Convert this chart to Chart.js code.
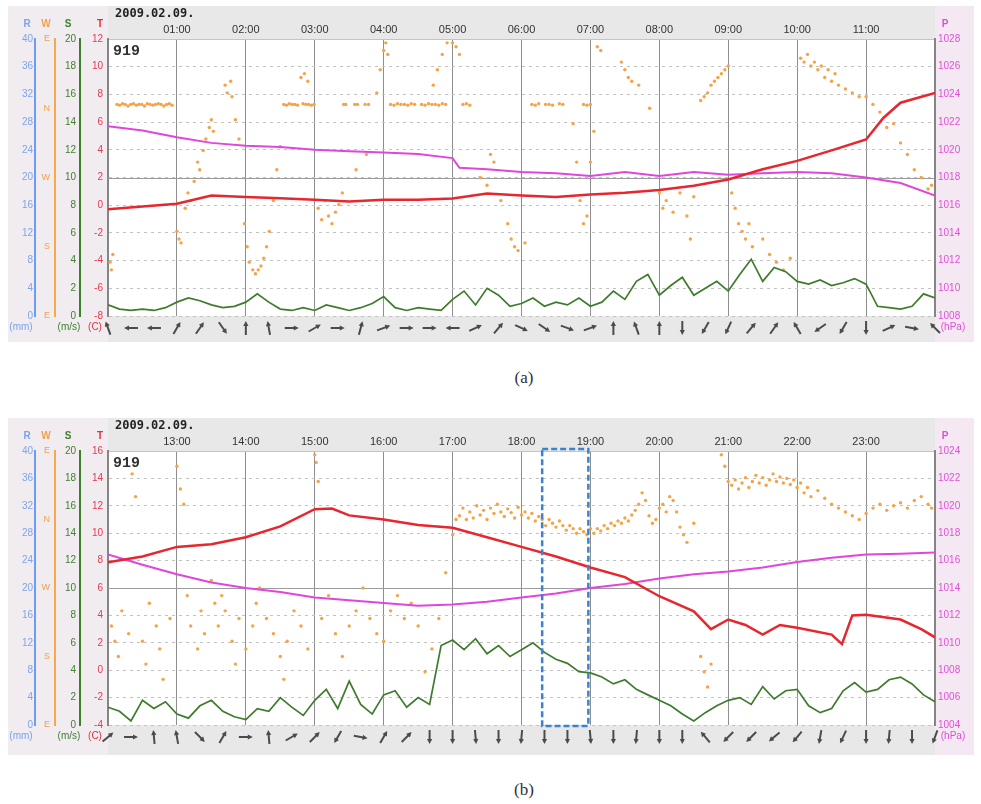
<!DOCTYPE html>
<html>
<head>
<meta charset="utf-8">
<script src="https://cdn.jsdelivr.net/npm/chart.js@4.4.1/dist/chart.umd.min.js"></script>
<style>
body { margin: 0; background: #fff; width: 981px; height: 804px; position: relative; overflow: hidden; }
canvas { position: absolute; left: 8px; }
#chartA { top: 6px; }
#chartB { top: 418px; }
.cap { position: absolute; left: 474px; width: 100px; text-align: center; font: 17px "Liberation Serif", serif; color: #333; line-height: 22px; }
</style>
</head>
<body>
<canvas id="chartA" width="966" height="336"></canvas>
<div class="cap" style="top:367px">(a)</div>
<canvas id="chartB" width="966" height="337"></canvas>
<div class="cap" style="top:779px">(b)</div>

<script>
// ---- shared labels ----
const dateLabel = '2009.02.09.';
const stationId = '919';
const dirLabels = ['E', 'S', 'W', 'N', 'E'];   // W axis, bottom -> top
const speedStepMin = 10;   // wind speed samples every 10 min
const windStepMin = 20;    // wind arrows every 20 min

// ---- panel (a) 00:00 - 12:00 ----
const tempTimeA = [0,0.5,1,1.5,2,2.5,3,3.5,4,4.5,5,5.5,6,6.5,7,7.5,8,8.5,9,9.5,10,10.5,11,11.25,11.5,12];
const tempA = [-0.3,-0.1,0.1,0.7,0.6,0.5,0.4,0.26,0.4,0.4,0.48,0.85,0.7,0.6,0.77,0.9,1.1,1.4,1.86,2.6,3.2,3.96,4.75,6.3,7.4,8.1];
const presTimeA = [0,0.5,1,1.5,2,2.5,3,3.5,4,4.5,5,5.1,5.5,6,6.5,7,7.5,8,8.5,9,9.5,10,10.5,11,11.5,12];
const presA = [1021.7,1021.4,1020.9,1020.5,1020.3,1020.2,1020.0,1019.9,1019.8,1019.7,1019.4,1018.7,1018.6,1018.4,1018.3,1018.1,1018.4,1018.1,1018.4,1018.2,1018.3,1018.4,1018.3,1018.0,1017.6,1016.7];
const speedA = [0.8,0.5,0.4,0.5,0.4,0.6,1.0,1.3,1.1,0.8, 0.6,0.7,1.0,1.6,1.0,0.5,0.4,0.6,0.4,0.8,
  0.6,0.4,0.6,0.9,1.4,0.6,0.4,0.6,0.5,0.4, 1.2,1.8,0.8,2.0,1.5,0.7,0.9,1.3,0.7,1.0,
  0.8,1.3,0.7,1.0,1.8,1.2,2.5,3.0,1.5,2.2, 2.8,1.5,2.0,2.5,1.8,3.0,4.1,2.5,3.5,3.2,
  2.5,2.3,2.6,2.2,2.4,2.7,2.3,0.7,0.6,0.5, 0.7,1.6,1.3];
const windDirA = [
  [0.03,70],[0.05,60],[0.07,80],
  [0.13,275],[0.17,274],[0.21,276],[0.25,275],[0.29,273],[0.33,275],[0.37,276],[0.41,274],[0.45,275],[0.49,275],
  [0.53,273],[0.57,276],[0.61,275],[0.65,274],[0.69,275],[0.73,276],[0.77,275],[0.81,273],[0.85,275],[0.89,276],[0.93,274],
  [1.0,110],[1.03,100],[1.06,95],[1.12,140],[1.16,160],[1.2,150],[1.25,175],[1.3,200],[1.33,190],[1.38,215],[1.42,230],
  [1.47,245],[1.5,255],[1.53,240],[1.7,300],[1.73,290],[1.78,305],[1.8,285],[1.85,255],[1.9,230],
  [1.98,120],[2.02,90],[2.05,70],[2.1,60],[2.14,55],[2.18,60],[2.22,65],[2.26,75],[2.3,90],[2.34,110],[2.4,150],[2.45,190],[2.5,220],
  [2.55,275],[2.59,274],[2.63,276],[2.67,275],[2.71,275],[2.75,274],[2.83,276],[2.87,275],[2.91,275],[2.95,274],[2.99,275],
  [2.8,310],[2.85,315],[2.9,305],
  [3.05,140],[3.1,125],[3.15,150],[3.2,130],[3.25,120],[3.3,135],[3.35,145],[3.4,160],
  [3.42,275],[3.45,275],[3.58,275],[3.62,275],[3.73,275],[3.78,275],[3.6,190],[3.75,210],
  [3.9,290],[3.95,320],[4.0,345],[4.03,355],[4.06,340],
  [4.1,275],[4.15,274],[4.2,276],[4.25,275],[4.3,275],[4.35,274],[4.4,276],[4.45,275],[4.55,275],[4.6,274],[4.65,276],
  [4.7,275],[4.75,275],[4.8,274],[4.85,276],[4.9,275],
  [4.72,300],[4.78,320],[4.85,340],[4.92,355],[5.0,355],[5.05,350],[5.1,340],[5.15,275],[5.2,276],[5.25,274],
  [5.4,180],[5.5,170],[5.55,210],[5.6,200],[5.7,150],[5.8,120],[5.85,100],[5.9,90],[5.95,85],[6.05,95],
  [6.15,275],[6.2,274],[6.25,276],[6.35,275],[6.4,275],[6.45,274],[6.55,276],[6.6,275],[6.9,275],[6.95,274],[7.0,275],
  [6.75,250],[6.8,200],[6.85,150],[6.9,120],[6.95,130],[7.0,200],[7.05,240],[7.1,350],[7.15,345],
  [7.45,330],[7.5,320],[7.55,310],[7.6,305],[7.7,300],[7.86,270],
  [8.0,160],[8.05,140],[8.1,150],[8.2,135],[8.3,160],[8.4,130],[8.45,100],[8.5,155],
  [8.6,280],[8.65,285],[8.7,290],[8.75,300],[8.8,305],[8.85,310],[8.9,315],[8.95,320],[9.0,325],
  [9.05,160],[9.1,140],[9.15,120],[9.2,110],[9.25,100],[9.3,120],[9.35,90],
  [9.5,100],[9.6,80],[9.7,70],[9.8,60],[9.9,75],
  [10.05,335],[10.1,330],[10.15,340],[10.2,325],[10.25,330],[10.3,320],[10.35,325],[10.4,310],[10.45,320],[10.5,305],
  [10.55,315],[10.6,300],[10.7,295],[10.8,290],[10.9,285],
  [11.0,285],[11.1,275],[11.2,265],[11.3,245],[11.4,250],[11.5,225],[11.6,210],[11.7,190],[11.8,180],[11.9,165],[11.95,170]
];
// arrow direction on screen, degrees clockwise from up
const windA = [340,270,270,30,35,145,0,350,90,60, 90,15,70,90,90,270,65,40,115,125,
  110,70,0,340,0,180,210,205,40,35, 330,235,210,180,65,100,315];

// ---- panel (b) 12:00 - 24:00 ----
const tempTimeB = [12,12.5,13,13.5,14,14.5,15,15.25,15.5,16,16.5,17,17.5,18,18.5,19,19.5,20,20.5,20.75,21,21.25,21.5,21.75,22,22.5,22.65,22.8,23,23.5,23.8,24];
const tempB = [7.87,8.3,9.0,9.2,9.7,10.5,11.75,11.8,11.3,11.0,10.6,10.4,9.7,9.0,8.3,7.5,6.8,5.4,4.3,3.0,3.7,3.3,2.6,3.3,3.1,2.6,1.9,4.0,4.05,3.7,3.0,2.4];
const presTimeB = [12,12.5,13,13.5,14,14.5,15,15.5,16,16.5,17,17.5,18,18.5,19,19.5,20,20.5,21,21.5,22,22.5,23,23.5,24];
const presB = [1016.45,1015.7,1015.0,1014.4,1014.0,1013.7,1013.3,1013.1,1012.9,1012.7,1012.8,1013.0,1013.3,1013.6,1014.0,1014.3,1014.7,1015.0,1015.2,1015.5,1015.9,1016.2,1016.45,1016.5,1016.6];
const speedB = [1.3,1.0,0.3,1.8,1.2,1.7,0.8,0.5,1.4,1.8, 1.0,0.6,0.4,1.2,1.0,2.0,1.3,0.7,1.8,2.6,
  1.2,3.2,1.5,0.8,2.2,2.5,1.3,2.0,1.5,5.8, 6.2,5.5,6.3,5.2,5.8,5.0,5.5,6.0,5.3,4.8,
  4.5,3.9,3.8,3.5,3.0,3.3,2.6,2.2,1.8,1.4, 0.8,0.3,0.9,1.4,1.8,2.0,1.5,2.8,1.9,2.5,
  2.6,1.4,0.9,1.2,2.5,3.1,2.4,2.6,3.3,3.5, 3.0,2.2,1.7];
const windDirB = [
  [12.05,130],[12.1,110],[12.15,90],[12.2,150],[12.3,120],[12.35,330],[12.4,300],[12.5,110],[12.55,80],[12.6,160],
  [12.7,130],[12.75,100],[12.8,60],[12.9,140],[13.0,340],[13.05,310],[13.1,290],[13.15,170],[13.2,130],[13.3,100],
  [13.35,150],[13.4,120],[13.5,190],[13.55,160],[13.6,130],[13.65,170],[13.7,150],[13.8,110],[13.85,80],[13.9,140],
  [14.0,100],[14.1,130],[14.15,160],[14.2,180],[14.3,140],[14.4,120],[14.5,90],[14.55,60],[14.6,110],[14.7,150],
  [14.8,130],[14.9,100],[15.0,355],[15.02,345],[15.05,320],[15.1,140],[15.2,170],[15.3,120],[15.4,90],[15.5,130],
  [15.6,150],[15.7,180],[15.8,140],[15.9,120],[16.0,110],[16.1,150],[16.2,170],[16.3,140],[16.4,160],[16.5,130],
  [16.6,70],[16.7,100],[16.8,140],[16.9,200],[17.0,250],[17.05,270],
  [17.1,275],[17.15,285],[17.2,270],[17.25,280],[17.3,272],[17.35,288],[17.4,276],[17.45,282],[17.5,270],[17.55,285],
  [17.6,278],[17.65,290],[17.7,280],[17.75,274],[17.8,284],[17.85,279],[17.9,272],[17.95,286],[18.0,276],
  [18.05,280],[18.1,272],[18.15,278],[18.2,268],[18.25,274],[18.3,270],[18.35,262],[18.4,270],[18.45,265],[18.5,260],
  [18.55,268],[18.6,262],[18.65,256],[18.7,262],[18.75,258],[18.8,252],[18.85,258],[18.9,254],[18.95,250],[19.0,258],
  [19.05,252],[19.1,258],[19.15,255],[19.2,262],[19.25,258],[19.3,265],[19.35,262],[19.4,268],[19.45,265],[19.5,272],
  [19.55,268],[19.6,276],[19.65,282],[19.7,290],[19.75,305],[19.8,295],
  [19.85,275],[19.9,265],[19.95,270],[20.0,285],[20.05,290],[20.1,280],[20.15,300],[20.2,295],[20.25,280],[20.3,260],
  [20.35,250],[20.4,240],[20.5,265],[20.6,90],[20.65,70],[20.7,50],[20.75,80],[20.9,355],[20.95,340],[21.0,320],
  [21.05,315],[21.1,322],[21.15,310],[21.2,318],[21.25,325],[21.3,312],[21.35,320],[21.4,328],[21.45,318],[21.5,325],
  [21.55,315],[21.6,322],[21.65,330],[21.7,320],[21.75,326],[21.8,318],[21.85,324],[21.9,316],[21.95,322],[22.0,312],
  [22.05,318],[22.1,305],[22.15,312],[22.2,300],[22.3,308],[22.4,298],[22.5,290],[22.6,285],[22.7,280],[22.8,275],
  [22.9,270],[23.0,278],[23.1,285],[23.2,290],[23.3,282],[23.4,288],[23.5,292],[23.6,285],[23.7,295],[23.8,300],
  [23.9,290],[23.95,285]
];
const windB = [50,90,355,350,135,30,90,355,60,45, 210,100,30,45,180,180,175,180,185,180,
  180,175,180,185,180,180,320,225,225,230, 220,190,205,180,185,180,200];
const boxB = [18.3, 18.97];   // highlighted interval (hours)

Chart.defaults.font.family = 'Liberation Sans';

function pad2(n) { return (n < 10 ? '0' : '') + n; }

function panelPlugin(d) {
  return {
    id: 'panel',
    beforeDraw(chart) {
      const { ctx, chartArea: a, width, height } = chart;
      ctx.save();
      ctx.fillStyle = '#e8e8e8';
      ctx.fillRect(0, 0, width, height);
      ctx.fillStyle = '#f1ecf0';
      ctx.fillRect(0, 0, a.left, height);
      ctx.fillStyle = '#f4e9f2';
      ctx.fillRect(a.right, 0, width - a.right, height);
      ctx.fillStyle = '#ffffff';
      ctx.fillRect(a.left, a.top, a.right - a.left, a.bottom - a.top);
      ctx.restore();
    },
    beforeDatasetsDraw(chart) {
      // solid middle line
      const { ctx, chartArea: a, scales } = chart;
      const yT = scales.yT;
      const y = Math.round(yT.getPixelForValue((yT.min + yT.max) / 2)) + 0.5;
      ctx.save();
      ctx.strokeStyle = '#9c9c9c';
      ctx.lineWidth = 1;
      ctx.beginPath();
      ctx.moveTo(a.left, y);
      ctx.lineTo(a.right, y);
      ctx.stroke();
      ctx.restore();
    },
    afterDraw(chart) {
      const { ctx, chartArea: a, scales } = chart;
      ctx.save();
      // date and station
      ctx.textBaseline = 'middle';
      ctx.textAlign = 'left';
      ctx.fillStyle = '#222';
      ctx.font = 'bold 12px "DejaVu Sans Mono"';
      ctx.fillText(dateLabel, a.left + 7, 8);
      ctx.font = 'bold 15px "Liberation Mono"';
      ctx.fillStyle = '#333';
      ctx.fillText(stationId, a.left + 5, a.top + 12);

      // axis titles
      ctx.textAlign = 'center';
      ctx.font = 'bold 10px "Liberation Sans"';
      const titles = [
        ['R', scales.yR.right - 8, '#7aa3ea'],
        ['W', scales.yW.right - 9, '#f0a24c'],
        ['S', scales.yS.right - 12, '#3d7f2f'],
        ['T', scales.yT.right - 8, '#e0303f'],
        ['P', scales.yP.left + 10, '#dd4fd6']
      ];
      titles.forEach(t => { ctx.fillStyle = t[2]; ctx.fillText(t[0], t[1], 18); });

      // units
      ctx.font = '10px "Liberation Sans"';
      const uy = a.bottom + 11;
      [['(mm)', scales.yR.left + 13, '#7aa3ea'],
       ['(m/s)', scales.yS.left + 14, '#3d7f2f'],
       ['(C)', scales.yT.left + 15, '#e0303f'],
       ['(hPa)', scales.yP.left + 18, '#dd4fd6']].forEach(u => {
        ctx.fillStyle = u[2]; ctx.fillText(u[0], u[1], uy);
      });

      // wind arrows
      const xs = scales.x;
      const yc = a.bottom + 12;
      ctx.strokeStyle = '#4b4b4b';
      ctx.fillStyle = '#4b4b4b';
      ctx.lineWidth = 2;
      d.wind.forEach((ang, k) => {
        const x = xs.getPixelForValue(d.start + k * windStepMin / 60);
        const r = ang * Math.PI / 180;
        const dx = Math.sin(r), dy = -Math.cos(r), L = 7;
        const hx = x + dx * L, hy = yc + dy * L;
        ctx.beginPath();
        ctx.moveTo(x - dx * L, yc - dy * L);
        ctx.lineTo(hx - dx * 3, hy - dy * 3);
        ctx.stroke();
        ctx.beginPath();
        ctx.moveTo(hx, hy);
        ctx.lineTo(hx - dx * 5 - dy * 2.6, hy - dy * 5 + dx * 2.6);
        ctx.lineTo(hx - dx * 5 + dy * 2.6, hy - dy * 5 - dx * 2.6);
        ctx.closePath();
        ctx.fill();
      });

      // highlight box
      if (d.box) {
        const x1 = xs.getPixelForValue(d.box[0]);
        const x2 = xs.getPixelForValue(d.box[1]);
        ctx.strokeStyle = '#3a84cf';
        ctx.lineWidth = 2.5;
        ctx.setLineDash([6, 3]);
        ctx.strokeRect(x1, a.top - 2, x2 - x1, a.bottom - a.top + 3);
      }
      ctx.restore();
    }
  };
}

function leftAxis(weight, width, min, max, step, color, borderColor, pad, extra) {
  return Object.assign({
    type: 'linear', position: 'left', weight: weight, min: min, max: max,
    ticks: { stepSize: step, padding: pad, color: color, font: { size: 10 } },
    grid: { display: false, drawTicks: false },
    border: { color: borderColor, width: 2 },
    afterFit: s => { s.width = width; }
  }, extra || {});
}

function buildPanel(id, d) {
  const xy = (ts, vs) => ts.map((t, i) => ({ x: t, y: vs[i] }));
  const speedPts = d.speed.map((v, i) => ({ x: d.start + i * speedStepMin / 60, y: v }));
  const dirPts = d.dir.map(p => ({ x: p[0], y: p[1] }));

  return new Chart(document.getElementById(id), {
    type: 'line',
    data: {
      datasets: [
        { type: 'scatter', data: dirPts, yAxisID: 'yW', pointRadius: 1.7, pointBackgroundColor: '#f5a344', pointBorderWidth: 0, order: 4 },
        { data: speedPts, yAxisID: 'yS', borderColor: '#3e7b2c', borderWidth: 1.7, pointRadius: 0, order: 3 },
        { data: xy(d.presTime, d.pres), yAxisID: 'yP', borderColor: '#e046dc', borderWidth: 2, pointRadius: 0, order: 2 },
        { data: xy(d.tempTime, d.temp), yAxisID: 'yT', borderColor: '#e8262e', borderWidth: 2.5, pointRadius: 0, order: 1 }
      ]
    },
    options: {
      responsive: false,
      animation: false,
      devicePixelRatio: 1,
      layout: { padding: { left: 0, right: 0, top: 0, bottom: d.padBottom } },
      plugins: { legend: { display: false }, tooltip: { enabled: false } },
      scales: {
        x: {
          type: 'linear', position: 'top', min: d.start, max: d.start + 12,
          ticks: {
            stepSize: 1, autoSkip: false, maxRotation: 0, padding: 2, color: '#333',
            font: { size: 11 },
            callback: v => (v > d.start && v < d.start + 12) ? pad2(v) + ':00' : ''
          },
          grid: { color: '#8e8e8e', lineWidth: 1, drawTicks: false },
          border: { display: true, color: '#c4c4c4' },
          afterFit: s => { s.height = 33; }
        },
        yR: leftAxis(4, 27, 0, 40, 4, '#7da6ea', '#6d9cf0', 2),
        yW: leftAxis(3, 20, 0, 360, 90, '#f0a24c', '#f5a94a', 5,
          { ticks: { stepSize: 90, padding: 5, color: '#f0a24c', font: { size: 9 }, callback: (v, i) => dirLabels[i] } }),
        yS: leftAxis(2, 25, 0, 20, 2, '#3f7f2f', '#3e7f2e', 4),
        yT: {
          type: 'linear', position: 'left', weight: 1, min: d.tMin, max: d.tMin + 20,
          ticks: { stepSize: 2, padding: 5, color: '#e8384f', font: { size: 10 } },
          grid: { color: '#c2c2c2', lineWidth: 1, drawTicks: false },
          border: { color: '#858585', width: 2, dash: [3, 4] },
          afterFit: s => { s.width = 28; }
        },
        yP: {
          type: 'linear', position: 'right', min: d.pMin, max: d.pMin + 20,
          ticks: { stepSize: 2, padding: 3, color: '#e050d6', font: { size: 10 }, callback: v => String(v) },
          grid: { display: false, drawTicks: false },
          border: { color: '#858585', width: 2 },
          afterFit: s => { s.width = 39; }
        }
      }
    },
    plugins: [panelPlugin(d)]
  });
}

buildPanel('chartA', {
  start: 0, tMin: -8, pMin: 1008, padBottom: 26,
  tempTime: tempTimeA, temp: tempA, presTime: presTimeA, pres: presA,
  speed: speedA, dir: windDirA, wind: windA, box: null
});
buildPanel('chartB', {
  start: 12, tMin: -4, pMin: 1004, padBottom: 30,
  tempTime: tempTimeB, temp: tempB, presTime: presTimeB, pres: presB,
  speed: speedB, dir: windDirB, wind: windB, box: boxB
});
</script>
</body>
</html>
